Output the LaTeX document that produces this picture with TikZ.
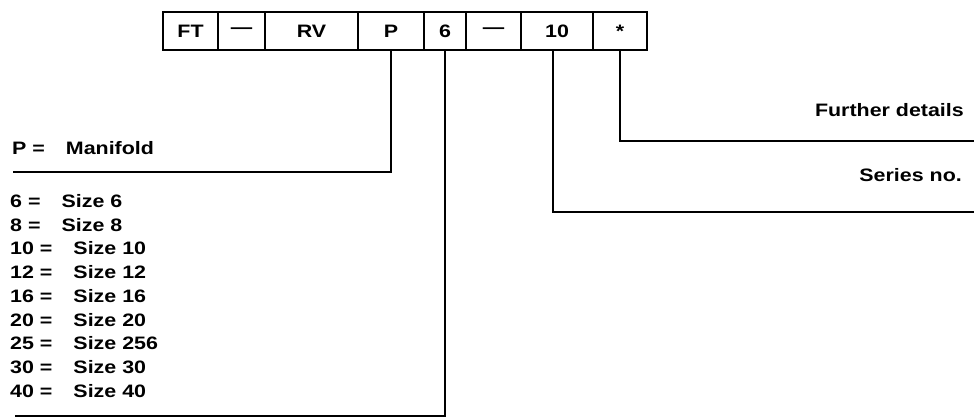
\documentclass[tikz,border=0pt]{standalone}
\usepackage{fontspec}
\setmainfont{Liberation Sans}[FakeStretch=1.19]
\usetikzlibrary{positioning}

\begin{document}
\begin{tikzpicture}[x=1pt,y=-1pt,font=\bfseries\fontsize{18}{20}\selectfont,
  cell/.style={draw,line width=1.4pt,minimum height=38pt,inner sep=0pt,outer sep=0pt},
  lead/.style={line width=2.6pt},
  lbl/.style={inner sep=0pt}]
  \useasboundingbox (0,0) rectangle (974,419);

  \node[cell,minimum width=55pt,anchor=north west] (ft) at (163,12) {FT};
  \node[cell,minimum width=47pt,right=0pt of ft]    (dasha) {---};
  \node[cell,minimum width=93pt,right=0pt of dasha] (rv)    {RV};
  \node[cell,minimum width=66pt,right=0pt of rv]    (p)     {P};
  \node[cell,minimum width=42pt,right=0pt of p]     (six)   {6};
  \node[cell,minimum width=55pt,right=0pt of six]   (dashb) {---};
  \node[cell,minimum width=72pt,right=0pt of dashb] (ten)   {10};
  \node[cell,minimum width=54pt,right=0pt of ten]   (star)  {*};

  \coordinate (pend)    at (13,172);
  \coordinate (sixend)  at (15,416);
  \coordinate (tenend)  at (974,212);
  \coordinate (starend) at (974,141);

  \draw[lead] (p.south)    |- (pend);
  \draw[lead] (six.south)  |- (sixend);
  \draw[lead] ([xshift=-4pt]ten.south) |- (tenend);
  \draw[lead] (star.south) |- (starend);

  \node[lbl,anchor=east] (further)  at (964,110) {Further details};
  \node[lbl,anchor=east] (series)   at (962,175) {Series no.};
  \node[lbl,anchor=west] (manifold) at (12,148)  {P =\hspace{21pt}Manifold};

  \foreach \n/\s [count=\i] in {6/6,8/8,10/10,12/12,16/16,20/20,25/256,30/30,40/40}
    \node[lbl,anchor=west] (size\i) at (10,{201+23.75*(\i-1)}) {\n{} =\hspace{21pt}Size \s};
\end{tikzpicture}
\end{document}
